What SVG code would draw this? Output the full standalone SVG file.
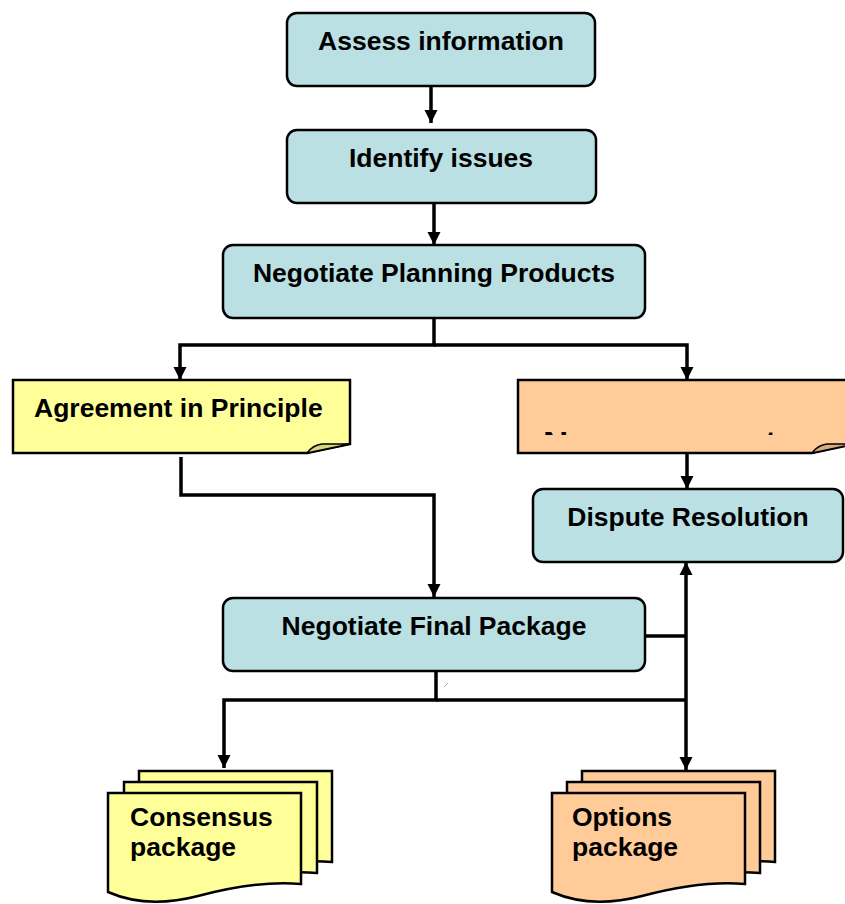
<svg xmlns="http://www.w3.org/2000/svg" width="845" height="904" viewBox="0 0 845 904">
<style>
.box{fill:#bae0e3;stroke:#000;stroke-width:2.5}
.yel{fill:#ffff99;stroke:#000;stroke-width:2.5;stroke-linejoin:miter}
.org{fill:#ffcc99;stroke:#000;stroke-width:2.5;stroke-linejoin:miter}
.yfold{fill:#d6d67f;stroke:#000;stroke-width:1.5}
.ofold{fill:#d6ab80;stroke:#000;stroke-width:1.5}
.t{font-family:"Liberation Sans",Arial,sans-serif;font-weight:bold;font-size:26.5px;fill:#000}
.c{text-anchor:middle}
.con{fill:none;stroke:#000;stroke-width:3.5}
</style>
<defs>
<marker id="ah" viewBox="0 0 10 10" refX="10" refY="5" markerWidth="13" markerHeight="14" markerUnits="userSpaceOnUse" orient="auto">
<path d="M0,0 L10,5 L0,10 Z" fill="#000"/>
</marker>
<path id="doc" d="M0,0 H193 V91 C160,88 120,95 90,103 C55,112 25,110 0,99 Z"/>
<clipPath id="clipNo"><rect x="518" y="420" width="330" height="15"/></clipPath>
</defs>

<g id="connectors">
<path class="con" d="M431,86 V123" marker-end="url(#ah)"/>
<path class="con" d="M434,203 V245" marker-end="url(#ah)"/>
<path class="con" d="M434,318 V345 H180 V380" marker-end="url(#ah)"/>
<path class="con" d="M434,345 H687 V380" marker-end="url(#ah)"/>
<path class="con" d="M181,457 V495 H434 V597" marker-end="url(#ah)"/>
<path class="con" d="M687,453 V489" marker-end="url(#ah)"/>
<path class="con" d="M645,636 H686"/>
<path class="con" d="M686,700 V562" marker-end="url(#ah)"/>
<path class="con" d="M686,700 V770" marker-end="url(#ah)"/>
<path class="con" d="M436,671 V700 H224 V768" marker-end="url(#ah)"/>
<path class="con" d="M436,700 H686"/>
<path d="M444,687 L448,683" stroke="#999" stroke-width="0.8"/>
</g>

<g id="assess">
<rect class="box" x="287" y="13" width="308" height="73" rx="10"/>
<text class="t c" x="441" y="50">Assess information</text>
</g>
<g id="identify">
<rect class="box" x="287" y="130" width="309" height="73" rx="10"/>
<text class="t c" x="441" y="167">Identify issues</text>
</g>
<g id="negotiate-planning">
<rect class="box" x="223" y="245" width="422" height="73" rx="10"/>
<text class="t c" x="434" y="282">Negotiate Planning Products</text>
</g>
<g id="agreement">
<path class="yel" d="M13,380 H350 V444 L307,453 H13 Z"/>
<path class="yfold" d="M307,453 Q313,445 322,444 L350,444 Z"/>
<text class="t" x="34" y="417">Agreement in Principle</text>
</g>
<g id="no-agreement">
<path class="org" d="M518,380 H855 V444 L812,453 H518 Z"/>
<path class="ofold" d="M812,453 Q818,445 827,444 L855,444 Z"/>
<text clip-path="url(#clipNo)" x="543" y="456" style="font-family:'Liberation Sans',Arial,sans-serif;font-weight:bold;font-size:35px">No agreement</text>
</g>
<g id="dispute">
<rect class="box" x="533" y="489" width="310" height="73" rx="10"/>
<text class="t c" x="688" y="526">Dispute Resolution</text>
</g>
<g id="negotiate-final">
<rect class="box" x="223" y="598" width="422" height="73" rx="10"/>
<text class="t c" x="434" y="635">Negotiate Final Package</text>
</g>
<g id="consensus">
<use href="#doc" class="yel" transform="translate(139,771)"/>
<use href="#doc" class="yel" transform="translate(124,782)"/>
<use href="#doc" class="yel" transform="translate(108,793)"/>
<text class="t" x="130" y="826">Consensus</text>
<text class="t" x="130" y="856">package</text>
</g>
<g id="options">
<use href="#doc" class="org" transform="translate(582,771)"/>
<use href="#doc" class="org" transform="translate(567,782)"/>
<use href="#doc" class="org" transform="translate(552,793)"/>
<text class="t" x="572" y="826">Options</text>
<text class="t" x="572" y="856">package</text>
</g>
</svg>
